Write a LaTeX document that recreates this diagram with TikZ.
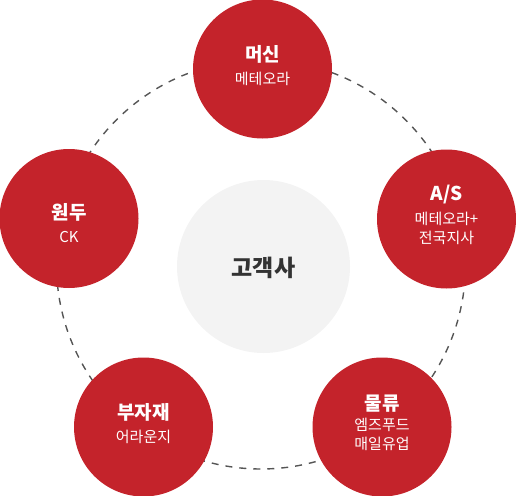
\documentclass[tikz,border=0pt]{standalone}
\usepackage{fontspec}
\setmainfont{Noto Sans CJK KR}
\definecolor{brandred}{HTML}{C4232B}
\definecolor{hubgray}{HTML}{F3F3F3}
\definecolor{dashgray}{HTML}{555555}
\definecolor{hubtext}{HTML}{333333}
\tikzset{
  redcircle/.style={circle,fill=brandred,minimum size=139pt,inner sep=0pt},
  ttl/.style={text=white,font=\fontsize{19}{22}\selectfont\bfseries,inner sep=0pt},
  sub/.style={text=white,font=\fontsize{15}{19}\selectfont,align=center,inner sep=0pt},
  ring/.style={draw=dashgray,line width=1.4pt,dash pattern=on 7pt off 7pt}
}
\begin{document}
\begin{tikzpicture}[x=1pt,y=-1pt]
\useasboundingbox (0,0) rectangle (516,495);
\coordinate (ringc) at (261,264.5);
\draw[ring] (ringc) circle (204.5);
\node[circle,fill=hubgray,minimum size=173pt,inner sep=0pt] (hub) at (263.5,266.5) {};
\node[text=hubtext,font=\fontsize{23}{26}\selectfont\bfseries] (hubt) at (263.5,268) {고객사};
% top
\node[redcircle] (c1) at (262.5,69) {};
\node[ttl] (t1) at (262.5,54) {머신};
\node[sub] (s1) at (262.5,79) {메테오라};
% right
\node[redcircle] (c2) at (446.5,219) {};
\node[ttl] (t2) at (446.5,195) {A/S};
\node[sub] (s2) at (446.5,228.5) {메테오라+\\전국지사};
% bottom right
\node[redcircle] (c3) at (382,427) {};
\node[ttl] (t3) at (382,404) {물류};
\node[sub] (s3) at (382,434) {엠즈푸드\\매일유업};
% bottom left
\node[redcircle] (c4) at (143.5,427) {};
\node[ttl] (t4) at (143.5,412) {부자재};
\node[sub] (s4) at (143.5,437) {어라운지};
% left
\node[redcircle] (c5) at (69,218.5) {};
\node[ttl] (t5) at (69,212) {원두};
\node[sub] (s5) at (69,237) {CK};
\end{tikzpicture}
\end{document}
